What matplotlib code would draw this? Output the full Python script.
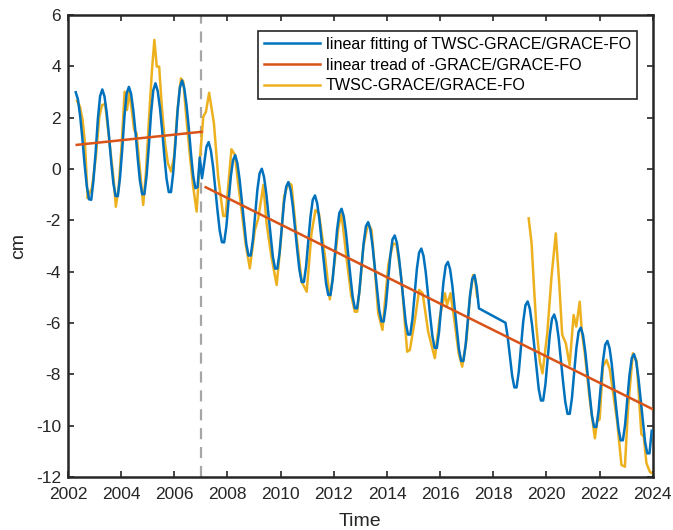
import numpy as np
import matplotlib.pyplot as plt

plt.rcParams['font.family'] = ['Liberation Sans', 'DejaVu Sans']
plt.rcParams['axes.unicode_minus'] = False

# fitted curve (monthly), one row per year
fit_2002 = [2.99, 2.71, 2.06, 1.19, 0.18, -0.67, -1.18, -1.20, -0.44]  # Apr-Dec
fit_2003 = [0.67, 1.95, 2.84, 3.10, 2.82, 2.18, 1.30, 0.29, -0.56, -1.05, -1.06, -0.33]
fit_2004 = [0.78, 2.06, 2.95, 3.20, 2.93, 2.28, 1.41, 0.40, -0.47, -0.98, -0.98, -0.25]
fit_2005 = [0.89, 2.17, 3.06, 3.34, 3.04, 2.39, 1.52, 0.51, -0.38, -0.90, -0.90, -0.15]
fit_2006 = [1.00, 2.28, 3.17, 3.45, 3.15, 2.50, 1.63, 0.62, -0.25, -0.75, -0.70, 0.45]
fit_2007 = [-0.36, 0.22, 0.86, 1.05, 0.72, 0.09, -0.76, -1.62, -2.40, -2.85, -2.86, -2.24]
fit_2008 = [-1.24, -0.30, 0.34, 0.54, 0.21, -0.43, -1.27, -2.13, -2.92, -3.37, -3.37, -2.75]
fit_2009 = [-1.76, -0.81, -0.17, 0.01, -0.31, -0.94, -1.78, -2.65, -3.43, -3.88, -3.88, -3.27]
fit_2010 = [-2.27, -1.32, -0.69, -0.51, -0.82, -1.45, -2.30, -3.16, -3.94, -4.40, -4.40, -3.78]
fit_2011 = [-2.78, -1.84, -1.20, -1.03, -1.34, -1.97, -2.81, -3.67, -4.46, -4.91, -4.91, -4.30]
fit_2012 = [-3.30, -2.35, -1.71, -1.55, -1.85, -2.48, -3.33, -4.19, -4.97, -5.42, -5.43, -4.81]
fit_2013 = [-3.81, -2.87, -2.23, -2.07, -2.36, -3.00, -3.84, -4.70, -5.49, -5.94, -5.94, -5.32]
fit_2014 = [-4.33, -3.38, -2.74, -2.59, -2.88, -3.51, -4.35, -5.22, -6.00, -6.45, -6.45, -5.84]
fit_2015 = [-4.84, -3.89, -3.26, -3.10, -3.39, -4.02, -4.87, -5.73, -6.51, -6.97, -6.97, -6.35]
fit_2016 = [-5.35, -4.41, -3.77, -3.62, -3.91, -4.54, -5.38, -6.24, -7.03, -7.48, -7.48, -6.87]
fit_2017 = [-5.87, -4.92, -4.28, -4.13, -4.60, -5.43]  # Jan-Jun
fit_2018 = [-5.99, -6.55, -7.30, -8.05, -8.51, -8.51, -7.90]  # Jun-Dec
fit_2019 = [-6.90, -5.95, -5.31, -5.16, -5.45, -6.08, -6.92, -7.79, -8.57, -9.02, -9.02, -8.41]
fit_2020 = [-7.41, -6.46, -5.83, -5.67, -5.96, -6.59, -7.44, -8.30, -9.08, -9.54, -9.54, -8.92]
fit_2021 = [-7.92, -6.98, -6.34, -6.18, -6.48, -7.11, -7.95, -8.81, -9.60, -10.05, -10.05, -9.44]
fit_2022 = [-8.44, -7.49, -6.85, -6.70, -6.99, -7.62, -8.47, -9.33, -10.11, -10.57, -10.57, -9.95]
fit_2023 = [-8.95, -8.01, -7.37, -7.21, -7.50, -8.14, -8.98, -9.84, -10.63, -11.08, -11.08, -10.20]

# TWSC observations (decimal year, cm); nan marks the GRACE / GRACE-FO gap
twsc_t = [2002.34, 2002.45, 2002.55, 2002.64, 2002.74, 2002.80, 2002.90, 2003.05, 2003.18, 2003.28,
          2003.40, 2003.55, 2003.72, 2003.80, 2003.91, 2004.03, 2004.13, 2004.22, 2004.31, 2004.43,
          2004.49, 2004.58, 2004.71, 2004.83, 2004.93, 2005.06, 2005.16, 2005.25, 2005.34, 2005.43,
          2005.53, 2005.65, 2005.76, 2005.88, 2005.99, 2006.12, 2006.25, 2006.34, 2006.46, 2006.59,
          2006.71, 2006.84, 2006.96, 2007.09, 2007.19, 2007.31, 2007.49, 2007.65, 2007.84, 2007.93,
          2008.15, 2008.28, 2008.40, 2008.53, 2008.68, 2008.84, 2009.03, 2009.16, 2009.35, 2009.47,
          2009.65, 2009.85, 2010.00, 2010.13, 2010.29, 2010.41, 2010.60, 2010.79, 2010.98, 2011.16,
          2011.31, 2011.44, 2011.67, 2011.85, 2012.04, 2012.17, 2012.29, 2012.48, 2012.65, 2012.79,
          2012.88, 2013.00, 2013.11, 2013.29, 2013.42, 2013.55, 2013.67, 2013.83, 2014.05, 2014.23,
          2014.36, 2014.55, 2014.68, 2014.76, 2014.86, 2015.05, 2015.21, 2015.34, 2015.55, 2015.80,
          2015.99, 2016.18, 2016.26, 2016.39, 2016.55, 2016.70, 2016.83, 2016.99, 2017.12, 2017.24,
          2017.30, 2017.39, 2018.40,
          2019.33, 2019.44, 2019.53, 2019.62, 2019.75, 2019.85, 2020.03, 2020.19, 2020.35, 2020.48,
          2020.59, 2020.73, 2020.87, 2021.02, 2021.12, 2021.25, 2021.33, 2021.44, 2021.63, 2021.82,
          2021.91, 2022.00, 2022.12, 2022.26, 2022.38, 2022.66, 2022.82, 2022.95, 2023.07, 2023.25,
          2023.39, 2023.57, 2023.66, 2023.76, 2023.89, 2023.98]
twsc_v = [2.66, 2.43, 1.91, 1.00, -1.14, -0.95, -0.75, 0.48, 2.04, 2.49,
          2.53, 1.13, -0.43, -1.47, -0.69, 1.13, 3.01, 2.30, 3.01, 2.04,
          1.52, 1.39, -0.04, -1.40, -0.17, 2.17, 3.86, 5.03, 3.99, 3.99,
          2.43, 1.00, 0.22, -0.10, 0.48, 2.30, 3.53, 3.40, 1.91, 0.48,
          -0.69, -1.66, 0.35, 2.04, 2.23, 2.97, 1.78, -0.30, -1.83, -1.83,
          0.77, 0.55, -0.56, -1.60, -2.90, -3.87, -2.38, -1.92, -0.62, -2.11,
          -3.40, -4.52, -2.90, -1.08, -0.53, -0.62, -2.64, -4.39, -4.78, -2.51,
          -1.60, -1.73, -3.42, -5.08, -3.54, -2.30, -1.73, -3.48, -4.90, -5.56,
          -5.56, -4.40, -3.03, -2.11, -2.38, -4.00, -5.62, -6.27, -3.74, -2.89,
          -2.96, -4.32, -6.10, -7.12, -7.05, -5.88, -4.71, -4.84, -6.34, -7.37,
          -5.75, -4.84, -5.30, -4.84, -6.01, -7.20, -7.70, -6.66, -5.00, -4.13,
          -4.20, -4.97, np.nan,
          -1.92, -2.89, -4.60, -6.14, -7.50, -7.96, -6.40, -4.19, -2.51, -4.45,
          -6.45, -6.80, -7.64, -5.69, -6.14, -5.17, -6.34, -7.18, -9.00, -10.49,
          -9.84, -9.75, -7.70, -7.44, -7.80, -9.84, -11.53, -11.60, -9.30, -7.18,
          -7.47, -10.33, -10.43, -11.46, -11.80, -11.86]

# linear trends before / after 2007
trend1_t = [2002.33, 2007.03]
trend1_v = [0.94, 1.45]
trend2_t = [2007.18, 2024.0]
trend2_v = [-0.71, -9.36]
split_year = 2007.02

# monthly time axis for the fitted curve (no months Jul 2017 - May 2018)
months = [(2002, m) for m in range(4, 13)]
months += [(y, m) for y in range(2003, 2017) for m in range(1, 13)]
months += [(2017, m) for m in range(1, 7)]
months += [(2018, m) for m in range(6, 13)]
months += [(y, m) for y in range(2019, 2024) for m in range(1, 13)]
fit_t = [y + (m - 0.5) / 12 for y, m in months]
fit_v = (fit_2002 + fit_2003 + fit_2004 + fit_2005 + fit_2006 + fit_2007 + fit_2008 + fit_2009
         + fit_2010 + fit_2011 + fit_2012 + fit_2013 + fit_2014 + fit_2015 + fit_2016 + fit_2017
         + fit_2018 + fit_2019 + fit_2020 + fit_2021 + fit_2022 + fit_2023)

c_blue = '#0072BD'
c_orange = '#D95319'
c_yellow = '#EDB120'
lw = 1.8

fig = plt.figure(figsize=(6.73, 5.30), dpi=100)
ax = fig.add_axes([0.101, 0.1, 0.869, 0.8717])

ax.axvline(split_year, color='#a6a6a6', lw=1.6, ls=(0, (5, 3.5)), zorder=1)
ax.plot(fit_t, fit_v, color=c_blue, lw=lw, label='linear fitting of TWSC-GRACE/GRACE-FO', zorder=3)
ax.plot(trend1_t, trend1_v, color=c_orange, lw=lw, label='linear tread of -GRACE/GRACE-FO', zorder=4)
ax.plot(trend2_t, trend2_v, color=c_orange, lw=lw, zorder=4)
ax.plot(twsc_t, twsc_v, color=c_yellow, lw=lw, label='TWSC-GRACE/GRACE-FO', zorder=2)

ax.set_xlim(2002, 2024)
ax.set_ylim(-12, 6)
ax.set_xticks(np.arange(2002, 2025, 2))
ax.set_yticks(np.arange(-12, 7, 2))
ax.tick_params(direction='in', top=True, right=True, length=4, width=1.2,
               labelsize=12.5, colors='#262626')
ax.tick_params(axis='x', pad=7)
ax.tick_params(axis='y', pad=5)
for s in ax.spines.values():
    s.set_linewidth(1.8)
    s.set_color('#262626')
ax.set_xlabel('Time', fontsize=14, color='#262626', labelpad=8)
ax.set_ylabel('cm', fontsize=14, color='#262626', labelpad=6)

handles, labels = ax.get_legend_handles_labels()
leg = ax.legend(handles, labels,
                loc='upper right', bbox_to_anchor=(0.978, 0.972), fontsize=11.6,
                fancybox=False, framealpha=1, edgecolor='#262626',
                handlelength=3.5, handletextpad=0.35, labelspacing=0.36,
                borderpad=0.35, borderaxespad=0.2)
leg.get_frame().set_linewidth(1.2)

fig.savefig('out.png', dpi=100)
